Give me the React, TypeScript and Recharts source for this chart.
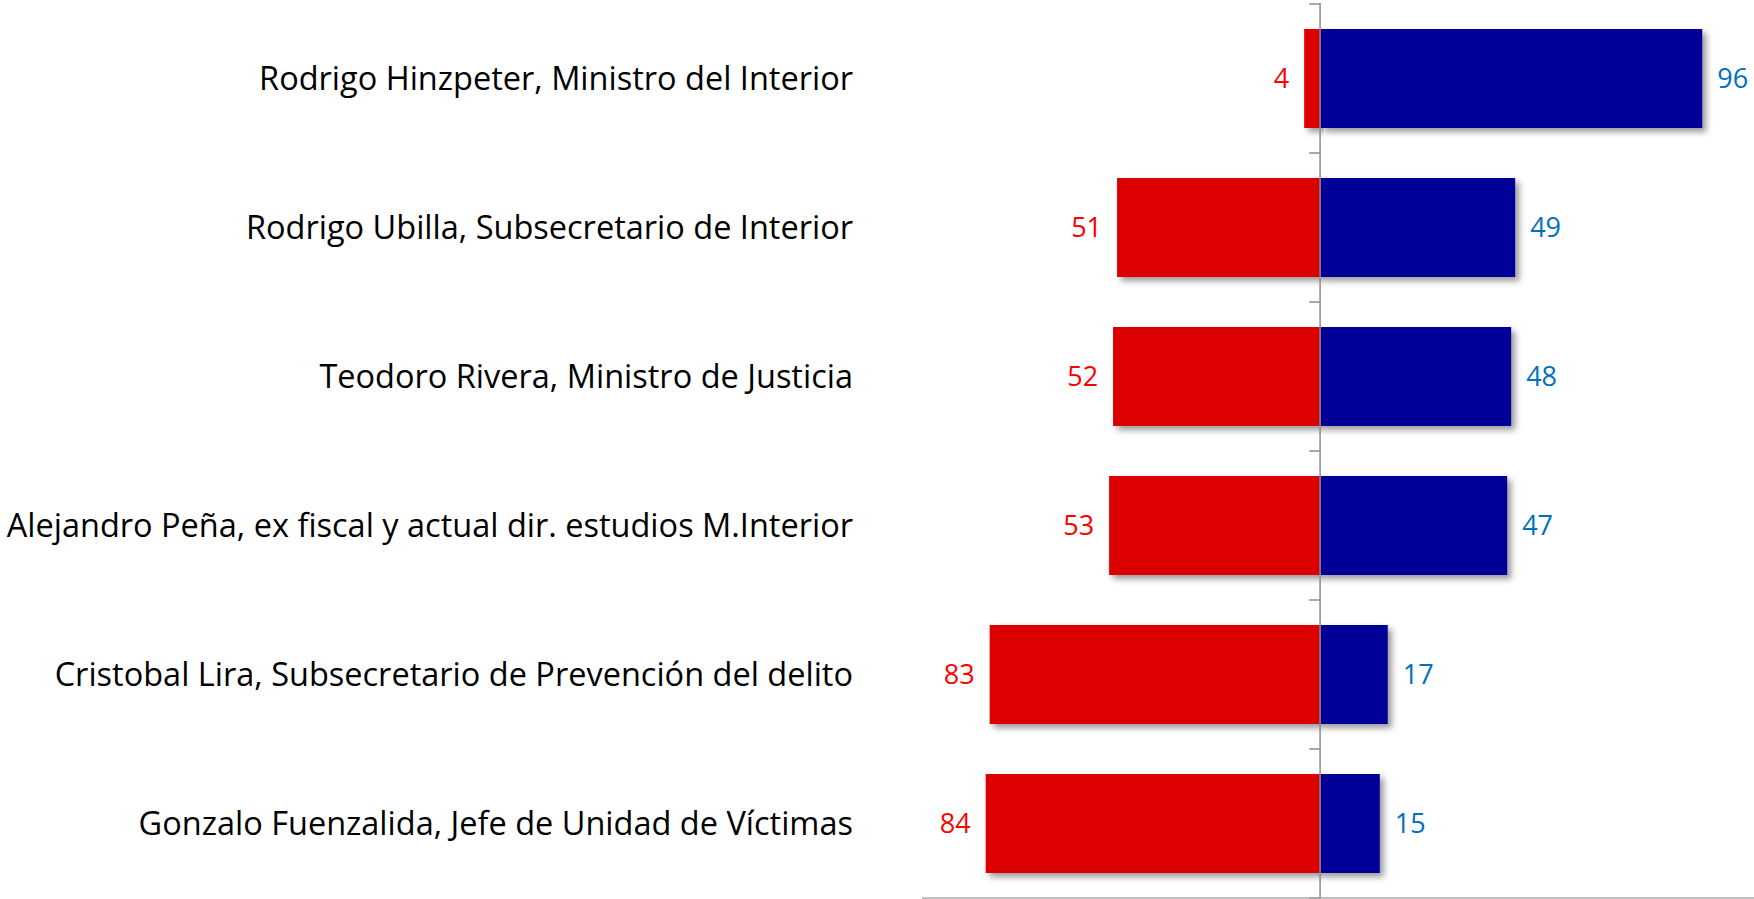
import { BarChart, Bar, XAxis, YAxis, ReferenceLine, LabelList } from "recharts";

const people = [
  "Rodrigo Hinzpeter, Ministro del Interior",
  "Rodrigo Ubilla, Subsecretario de Interior",
  "Teodoro Rivera, Ministro de Justicia",
  "Alejandro Peña, ex fiscal y actual dir. estudios M.Interior",
  "Cristobal Lira, Subsecretario de Prevención del delito",
  "Gonzalo Fuenzalida, Jefe de Unidad de Víctimas",
];
const negative = [4, 51, 52, 53, 83, 84];
const positive = [96, 49, 48, 47, 17, 15];

const data = people.map((name, i) => ({
  name,
  neg: -negative[i],
  pos: positive[i],
}));

const FONT = '"Open Sans", "Noto Sans", sans-serif';

// bar with a soft drop shadow, like the office export
function ShadowBar(props: any) {
  const { x, y, width, height, fill } = props;
  const left = Math.min(x, x + width);
  const top = Math.min(y, y + height);
  return (
    <rect
      x={left}
      y={top}
      width={Math.abs(width)}
      height={Math.abs(height)}
      fill={fill}
      filter="url(#barShadow)"
    />
  );
}

// zero line with small ticks at the category boundaries
function ZeroLine(props: any) {
  const { x1, y1, y2 } = props;
  const top = Math.min(y1, y2);
  const bottom = Math.max(y1, y2);
  const step = (bottom - top) / people.length;
  return (
    <g>
      {Array.from({ length: people.length + 1 }, (_, i) => (
        <line
          key={i}
          x1={x1 - 11}
          x2={x1}
          y1={top + i * step}
          y2={top + i * step}
          stroke="#8c8c8c"
          strokeWidth={1.5}
        />
      ))}
      <line x1={x1} x2={x1} y1={top - 1} y2={bottom + 1} stroke="#8c8c8c" strokeWidth={1.5} />
    </g>
  );
}

export default function App() {
  return (
    <div style={{ position: "absolute", left: 0, top: 0, background: "#fff" }}>
      <BarChart
        width={1754}
        height={899}
        data={data}
        layout="vertical"
        stackOffset="sign"
        margin={{ top: 4, right: 0, bottom: 0, left: 0 }}
      >
        <defs>
          <filter id="barShadow" x="-10%" y="-10%" width="130%" height="140%">
            <feDropShadow dx={4} dy={4} stdDeviation={3} floodColor="#000" floodOpacity={0.4} />
          </filter>
        </defs>
        <XAxis
          type="number"
          domain={[-100, 109]}
          allowDataOverflow
          tick={false}
          tickLine={false}
          height={1}
          axisLine={{ stroke: "#aaaaaa", strokeWidth: 1.5 }}
        />
        <YAxis
          type="category"
          dataKey="name"
          width={922}
          axisLine={false}
          tickLine={false}
          tickSize={0}
          tickMargin={69}
          tick={{ fill: "#000", fontSize: 32.5, fontFamily: FONT }}
        />
        <Bar
          dataKey="neg"
          stackId="a"
          fill="#dd0000"
          barSize={99}
          shape={<ShadowBar />}
          isAnimationActive={false}
        >
          {/* bar width is negative here, so "right" lands on the outer (left) end */}
          <LabelList
            dataKey="neg"
            position="right"
            offset={15}
            formatter={(v: any) => Math.abs(Number(v))}
            fill="#ff0000"
            fontSize={27}
            fontFamily={FONT}
          />
        </Bar>
        <Bar
          dataKey="pos"
          stackId="a"
          fill="#000099"
          barSize={99}
          shape={<ShadowBar />}
          isAnimationActive={false}
        >
          <LabelList
            dataKey="pos"
            position="right"
            offset={15}
            fill="#0070c0"
            fontSize={27}
            fontFamily={FONT}
          />
        </Bar>
        <ReferenceLine x={0} shape={<ZeroLine />} />
      </BarChart>
    </div>
  );
}
